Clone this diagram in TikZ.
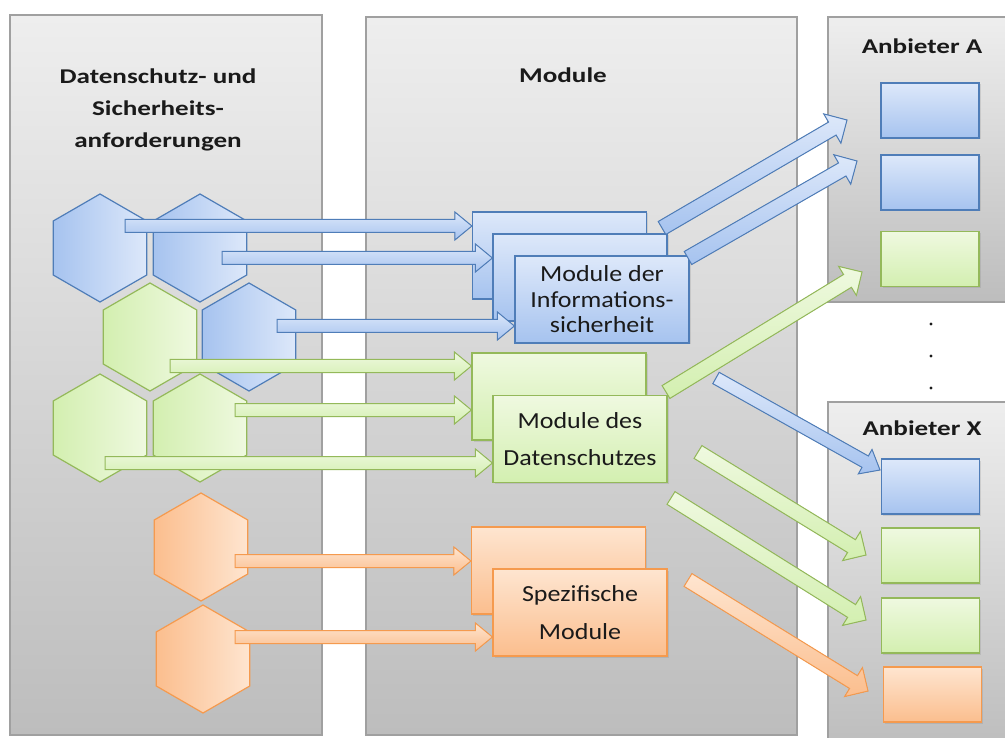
\documentclass[tikz,border=0pt]{standalone}
\usepackage{fontspec}
\setmainfont{Carlito}
\newfontfamily\titlefont[FakeStretch=1.29]{Carlito}
\newfontfamily\modfont[FakeStretch=1.13]{Carlito}
\usetikzlibrary{shapes.geometric,calc,shadows}
\definecolor{panTop}{HTML}{EEEEEE}
\definecolor{panBot}{HTML}{BDBDBD}
\definecolor{panLine}{HTML}{A0A0A0}
\definecolor{bLine}{HTML}{4F7DB8}
\definecolor{bLight}{HTML}{DDE8FA}
\definecolor{bDark}{HTML}{A6C3EF}
\definecolor{gLine}{HTML}{94B95A}
\definecolor{gLight}{HTML}{EFF9E0}
\definecolor{gDark}{HTML}{D3EFB0}
\definecolor{oLine}{HTML}{F59A4E}
\definecolor{oLight}{HTML}{FEE5D0}
\definecolor{oDark}{HTML}{FBBE8E}
\definecolor{txt}{HTML}{1A1A1A}
% #1 style, #2 from, #3 to, #4 shaft half width, #5 head half width, #6 head length
\newcommand{\barrowg}[6]{%
  \filldraw[#1] ($(#2)!#4!90:(#3)$) -- ($(#3)!#6!(#2)!#4!-90:(#2)$)
    -- ($(#3)!#6!(#2)!#5!-90:(#2)$) -- (#3)
    -- ($(#3)!#6!(#2)!#5!90:(#2)$) -- ($(#3)!#6!(#2)!#4!90:(#2)$)
    -- ($(#2)!#4!-90:(#3)$) -- cycle;}
\newcommand{\barrow}[3]{\barrowg{#1}{#2}{#3}{6.5pt}{14pt}{17pt}}
\newcommand{\darrow}[3]{\barrowg{#1}{#2}{#3}{7.5pt}{17pt}{17pt}}
\tikzset{
  panel/.style={draw=panLine, line width=1.5pt, top color=panTop, bottom color=panBot},
  ptitle/.style={text=txt, align=center, font=\titlefont\bfseries\fontsize{21}{32}\selectfont},
  hexbase/.style={regular polygon, regular polygon sides=6, shape border rotate=30,
    minimum size=108pt, inner sep=0pt, line width=1.2pt},
  hexb/.style={hexbase, draw=bLine, left color=bDark, right color=bLight},
  hexg/.style={hexbase, draw=gLine, left color=gDark, right color=gLight},
  hexo/.style={hexbase, draw=oLine, left color=oDark, right color=oLight},
  sh/.style={drop shadow={opacity=0.22, shadow xshift=1.5pt, shadow yshift=-1.5pt}},
  modbox/.style={rectangle, minimum width=174pt, minimum height=87pt, line width=1.2pt,
    align=center, text=txt, inner sep=0pt, sh},
  modb/.style={modbox, draw=bLine, top color=bLight, bottom color=bDark,
    font=\modfont\fontsize{23}{25.5}\selectfont},
  modg/.style={modbox, draw=gLine, top color=gLight, bottom color=gDark,
    font=\modfont\fontsize{23}{37}\selectfont},
  modo/.style={modbox, draw=oLine, top color=oLight, bottom color=oDark,
    font=\modfont\fontsize{23}{38}\selectfont},
  provbox/.style={rectangle, minimum width=98pt, minimum height=55pt, line width=1.2pt, inner sep=0pt, sh},
  provb/.style={provbox, draw=bLine, top color=bLight, bottom color=bDark},
  provg/.style={provbox, draw=gLine, top color=gLight, bottom color=gDark},
  provo/.style={provbox, draw=oLine, top color=oLight, bottom color=oDark},
  arrb/.style={draw=bLine, line width=1pt, top color=bLight, bottom color=bDark},
  arrg/.style={draw=gLine, line width=1pt, top color=gLight, bottom color=gDark},
  arro/.style={draw=oLine, line width=1pt, top color=oLight, bottom color=oDark},
}
\begin{document}
\begin{tikzpicture}[x=1pt,y=-1pt]
\useasboundingbox (0,0) rectangle (1005,738);
\clip (0,0) rectangle (1005,738);
\fill[white] (0,0) rectangle (1005,738);
% panels
\path[panel] (10,15) rectangle (322,735);
\path[panel] (366,17) rectangle (797,735);
\path[panel] (828,17) rectangle (1015,302);
\path[panel] (828,402) rectangle (1015,750);
\node[ptitle] (tl) at (158,110) {Datenschutz- und\\Sicherheits-\\anforderungen};
\node[ptitle] (tm) at (563,75) {Module};
\node[ptitle] (ta) at (922,46) {Anbieter A};
\node[ptitle] (tx) at (922,428) {Anbieter X};
\fill[txt] (931,324) circle (1.7pt);
\fill[txt] (931,356) circle (1.7pt);
\fill[txt] (931,388) circle (1.7pt);
% hexagons
\node[hexb] (h1) at (100,248) {};
\node[hexb] (h2) at (200,248) {};
\node[hexg] (h4) at (150,337) {};
\node[hexb] (h3) at (249,337) {};
\node[hexg] (h5) at (100,428) {};
\node[hexg] (h6) at (200,428) {};
\node[hexo] (h7) at (201,547) {};
\node[hexo] (h8) at (203,659) {};
% module boxes
\node[modb] (mi1) at (559.5,255.5) {};
\node[modb] (mi2) at (580,277.5) {};
\node[modb] (mi3) at (602,299.5) {Module der\\Informations-\\sicherheit};
\node[modg] (md1) at (559,396.5) {};
\node[modg] (md2) at (580,439) {Module des\\Datenschutzes};
\node[modo] (ms1) at (558.5,570.5) {};
\node[modo] (ms2) at (580,612.5) {Spezifische\\Module};
% provider boxes
\node[provb] (pa1) at (930,110.5) {};
\node[provb] (pa2) at (930,182.5) {};
\node[provg] (pa3) at (930,259) {};
\node[provb] (px1) at (930.5,486.5) {};
\node[provg] (px2) at (930.5,555.5) {};
\node[provg] (px3) at (930.5,625.5) {};
\node[provo] (px4) at (932.5,694.5) {};
% horizontal arrow start points
\coordinate (s1) at (125,226);
\coordinate (s2) at (222,258);
\coordinate (s3) at (277,326);
\coordinate (s4) at (170,366);
\coordinate (s5) at (235,410);
\coordinate (s6) at (105,463);
\coordinate (s7) at (235,561);
\coordinate (s8) at (235,637);
\coordinate (e1) at (s1 -| mi1.west);
\coordinate (e2) at (s2 -| mi2.west);
\coordinate (e3) at (s3 -| mi3.west);
\coordinate (e4) at (s4 -| md1.west);
\coordinate (e5) at (s5 -| md1.west);
\coordinate (e6) at (s6 -| md2.west);
\coordinate (e7) at (s7 -| ms1.west);
\coordinate (e8) at (s8 -| ms2.west);
\barrow{arrb}{s1}{e1}
\barrow{arrb}{s2}{e2}
\barrow{arrb}{s3}{e3}
\barrow{arrg}{s4}{e4}
\barrow{arrg}{s5}{e5}
\barrow{arrg}{s6}{e6}
\barrow{arro}{s7}{e7}
\barrow{arro}{s8}{e8}
% diagonal arrows
\coordinate (d1s) at (662,228);
\coordinate (d1e) at (847,120);
\coordinate (d2s) at (688,258);
\coordinate (d2e) at (857,161);
\coordinate (d3s) at (666,392);
\coordinate (d3e) at (862,272);
\coordinate (d4s) at (716,378);
\coordinate (d4e) at (880,470);
\coordinate (d5s) at (698,452);
\coordinate (d5e) at (866,555);
\coordinate (d6s) at (671,498);
\coordinate (d6e) at (866,620);
\coordinate (d7s) at (688,580);
\coordinate (d7e) at (868,691);
\darrow{arrb}{d1s}{d1e}
\darrow{arrb}{d2s}{d2e}
\darrow{arrg}{d3s}{d3e}
\barrow{arrb}{d4s}{d4e}
\darrow{arrg}{d5s}{d5e}
\darrow{arrg}{d6s}{d6e}
\darrow{arro}{d7s}{d7e}
\end{tikzpicture}
\end{document}
